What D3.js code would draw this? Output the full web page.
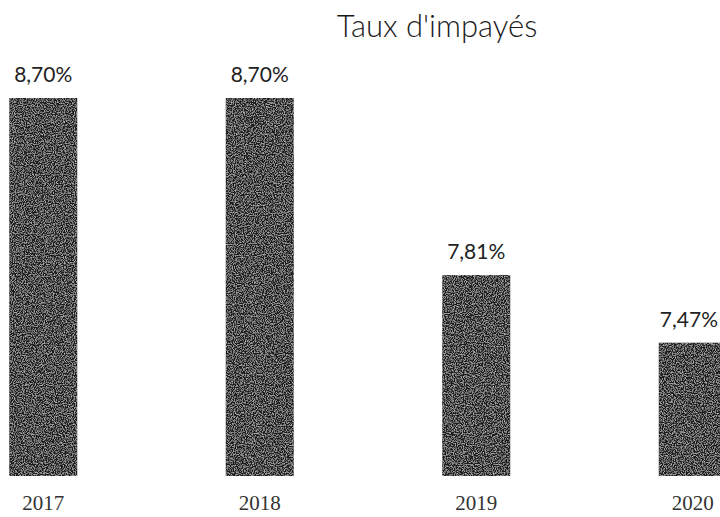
<!DOCTYPE html>
<html>
<head>
<meta charset="utf-8">
<script src="https://cdn.jsdelivr.net/npm/d3@7"></script>
<style>
  body { margin: 0; background: #fff; }
  svg { display: block; }
</style>
</head>
<body>
<div id="chart"></div>
<script>
const width = 720;
const height = 517;

const years = ["2017", "2018", "2019", "2020"];
const rates = [8.70, 8.70, 7.81, 7.47];
const rateLabels = ["8,70%", "8,70%", "7,81%", "7,47%"];
const title = "Taux d'impayés";

const data = years.map((y, i) => ({ year: y, rate: rates[i], label: rateLabels[i] }));

const x = d3.scaleBand()
    .domain(years)
    .range([-65, 801])
    .paddingInner(0.686)
    .paddingOuter(0.343);

// axis does not start at zero in the original
const y = d3.scaleLinear()
    .domain([6.8, 8.7])
    .range([476, 98]);

const svg = d3.select("#chart")
    .append("svg")
    .attr("width", width)
    .attr("height", height);

// scanned-paper look for the bars
const defs = svg.append("defs");
const f = defs.append("filter").attr("id", "grain")
    .attr("x", 0).attr("y", 0).attr("width", 1).attr("height", 1);
f.append("feTurbulence")
    .attr("type", "fractalNoise")
    .attr("baseFrequency", 0.9)
    .attr("numOctaves", 2)
    .attr("seed", 3)
    .attr("result", "noise");
f.append("feColorMatrix")
    .attr("in", "noise")
    .attr("type", "matrix")
    .attr("values", "0 0 0 0 0.55  0 0 0 0 0.55  0 0 0 0 0.55  0 0 0 -2.2 1.25")
    .attr("result", "specks");
f.append("feComposite")
    .attr("in", "specks")
    .attr("in2", "SourceGraphic")
    .attr("operator", "in")
    .attr("result", "clipped");
f.append("feMerge").call(m => {
    m.append("feMergeNode").attr("in", "SourceGraphic");
    m.append("feMergeNode").attr("in", "clipped");
});

svg.append("text")
    .attr("x", 437)
    .attr("y", 37)
    .attr("text-anchor", "middle")
    .style("font-family", "Lato, 'Open Sans', sans-serif")
    .style("font-weight", 300)
    .style("font-size", "31px")
    .style("fill", "#1a1a1a")
    .text(title);

svg.selectAll(".val")
    .data(data)
    .enter().append("text")
    .attr("class", "val")
    .attr("x", d => x(d.year) + x.bandwidth() / 2)
    .attr("y", d => y(d.rate) - 16)
    .attr("text-anchor", "middle")
    .style("font-family", "Lato, 'Open Sans', sans-serif")
    .style("font-size", "21px")
    .style("fill", "#222")
    .text(d => d.label)
    .each(function() {
        // keep the last label inside the picture
        const w = this.getComputedTextLength();
        const cx = +this.getAttribute("x");
        if (cx + w / 2 > width - 2) this.setAttribute("x", width - 2 - w / 2);
    });

svg.selectAll(".bar")
    .data(data)
    .enter().append("rect")
    .attr("class", "bar")
    .attr("x", d => x(d.year))
    .attr("y", d => y(d.rate))
    .attr("width", x.bandwidth())
    .attr("height", d => y(6.8) - y(d.rate))
    .attr("fill", "#1e1e1e")
    .attr("filter", "url(#grain)");

svg.selectAll(".year")
    .data(data)
    .enter().append("text")
    .attr("class", "year")
    .attr("x", d => x(d.year) + x.bandwidth() / 2)
    .attr("y", 510)
    .attr("text-anchor", "middle")
    .style("font-family", "'Liberation Serif', serif")
    .style("font-size", "21px")
    .style("fill", "#333")
    .text(d => d.year);
</script>
</body>
</html>
